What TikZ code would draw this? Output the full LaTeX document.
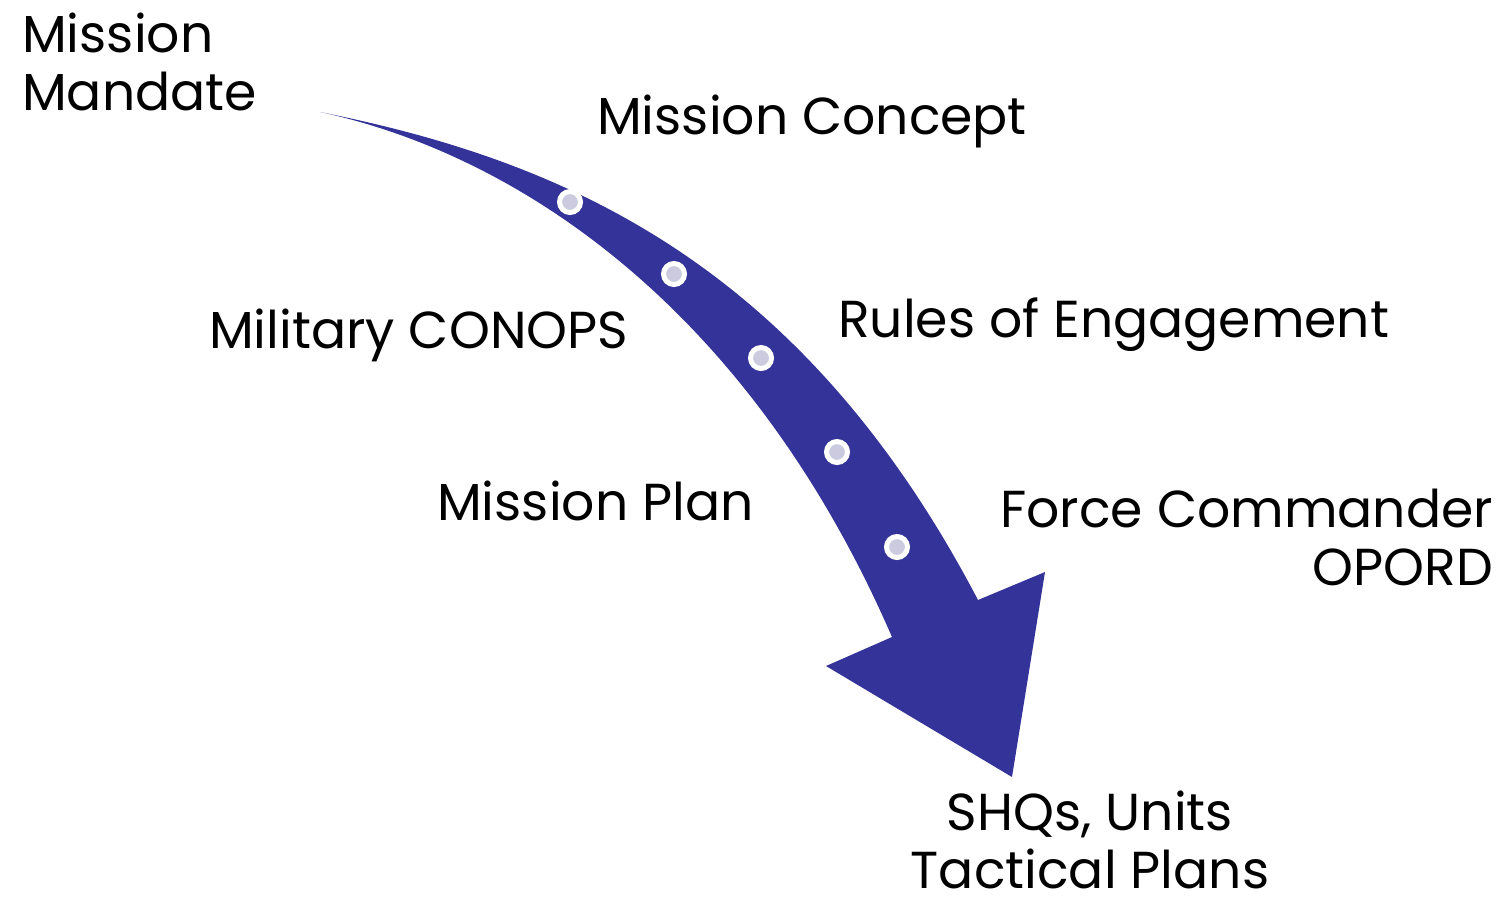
\documentclass[tikz,border=0pt]{standalone}
\usepackage{fontspec}
\setmainfont{Poppins}
\definecolor{arrowblue}{HTML}{343399}
\definecolor{dotgrey}{HTML}{CBCADF}
\begin{document}
\begin{tikzpicture}[x=1pt,y=-1pt,
  lbl/.style={inner sep=0pt, font=\fontsize{52}{58}\selectfont},
  stepdot/.style={circle, fill=dotgrey, draw=white, line width=5pt, minimum size=21pt, inner sep=0pt}]
\useasboundingbox (0,0) rectangle (1504,898);
\fill[arrowblue] (320,112) .. controls (560,160) and (800,260) .. (978,600)
  -- (1045,572) -- (1012,777) -- (826,666) -- (892,637)
  .. controls (750,310) and (520,155) .. (320,112) -- cycle;
\node[stepdot] (d1) at (570,202) {};
\node[stepdot] (d2) at (674,274) {};
\node[stepdot] (d3) at (761,358) {};
\node[stepdot] (d4) at (837,452) {};
\node[stepdot] (d5) at (897,547) {};
\node[lbl, anchor=base west, align=left] (mandate) at (22,110) {Mission\\Mandate};
\node[lbl, anchor=base west] (concept) at (597,134) {Mission Concept};
\node[lbl, anchor=base west] (conops) at (209,348) {Military CONOPS};
\node[lbl, anchor=base west] (roe) at (838,337) {Rules of Engagement};
\node[lbl, anchor=base west] (plan) at (437,520) {Mission Plan};
\node[lbl, anchor=base east, align=right] (opord) at (1493,585) {Force Commander\\OPORD};
\node[lbl, anchor=base, align=center] (shq) at (1090,888) {SHQs, Units\\Tactical Plans};
\end{tikzpicture}
\end{document}
